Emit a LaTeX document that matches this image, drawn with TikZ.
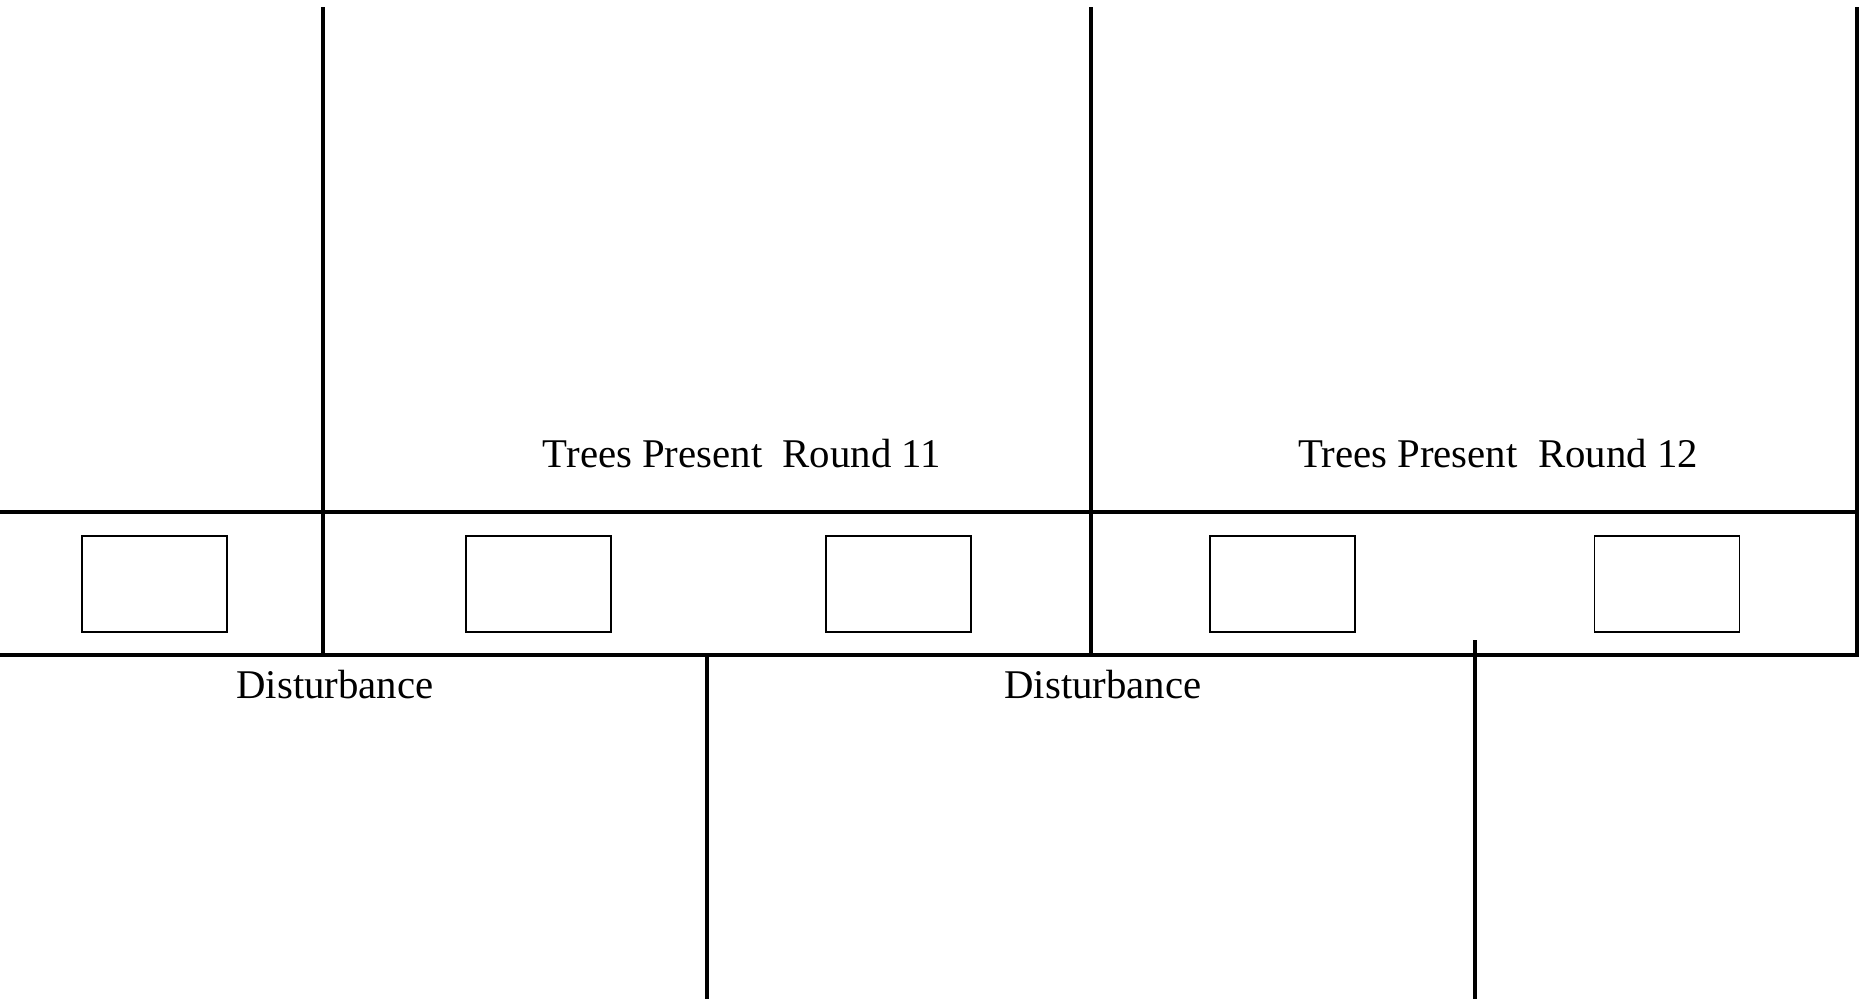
\documentclass[tikz,border=0pt]{standalone}
\usepackage{fontspec}
\setmainfont{Liberation Serif}
\usetikzlibrary{positioning}

\begin{document}
\begin{tikzpicture}[
    x=0.01cm, y=-0.01cm,
    node distance=2.39cm,
    every node/.style={font=\fontsize{11.6}{13}\selectfont},
    rule/.style={draw=black, line width=1.15pt},
    plotbox/.style={draw=black, line width=0.45pt, minimum width=1.45cm, minimum height=0.96cm, inner sep=0pt, outer sep=0pt},
    caption/.style={anchor=base, inner sep=0pt}
]
    \useasboundingbox (0,0) rectangle (1859,999);

    % band and column rules
    \draw[rule] (0,512) -- (1857,512);
    \draw[rule] (0,655) -| (1857,7);
    \draw[rule] (323,7) -- (323,655);
    \draw[rule] (1091,7) -- (1091,655);
    \draw[rule] (707,655) -- (707,999);
    \draw[rule] (1475,640) -- (1475,999);

    % plots in the band
    \node[plotbox] (plot1) at (154.5,584) {};
    \node[plotbox, right=of plot1] (plot2) {};
    \node[plotbox] (plot3) at (898.5,584) {};
    \node[plotbox, right=of plot3] (plot4) {};
    \node[plotbox, right=of plot4] (plot5) {};

    % labels
    \node[caption] (round11) at (742,467) {Trees Present\ \ Round 11};
    \node[caption] (round12) at (1498,467) {Trees Present\ \ Round 12};
    \node[caption] (dist1) at (335,698) {Disturbance};
    \node[caption] (dist2) at (1103,698) {Disturbance};
\end{tikzpicture}
\end{document}
